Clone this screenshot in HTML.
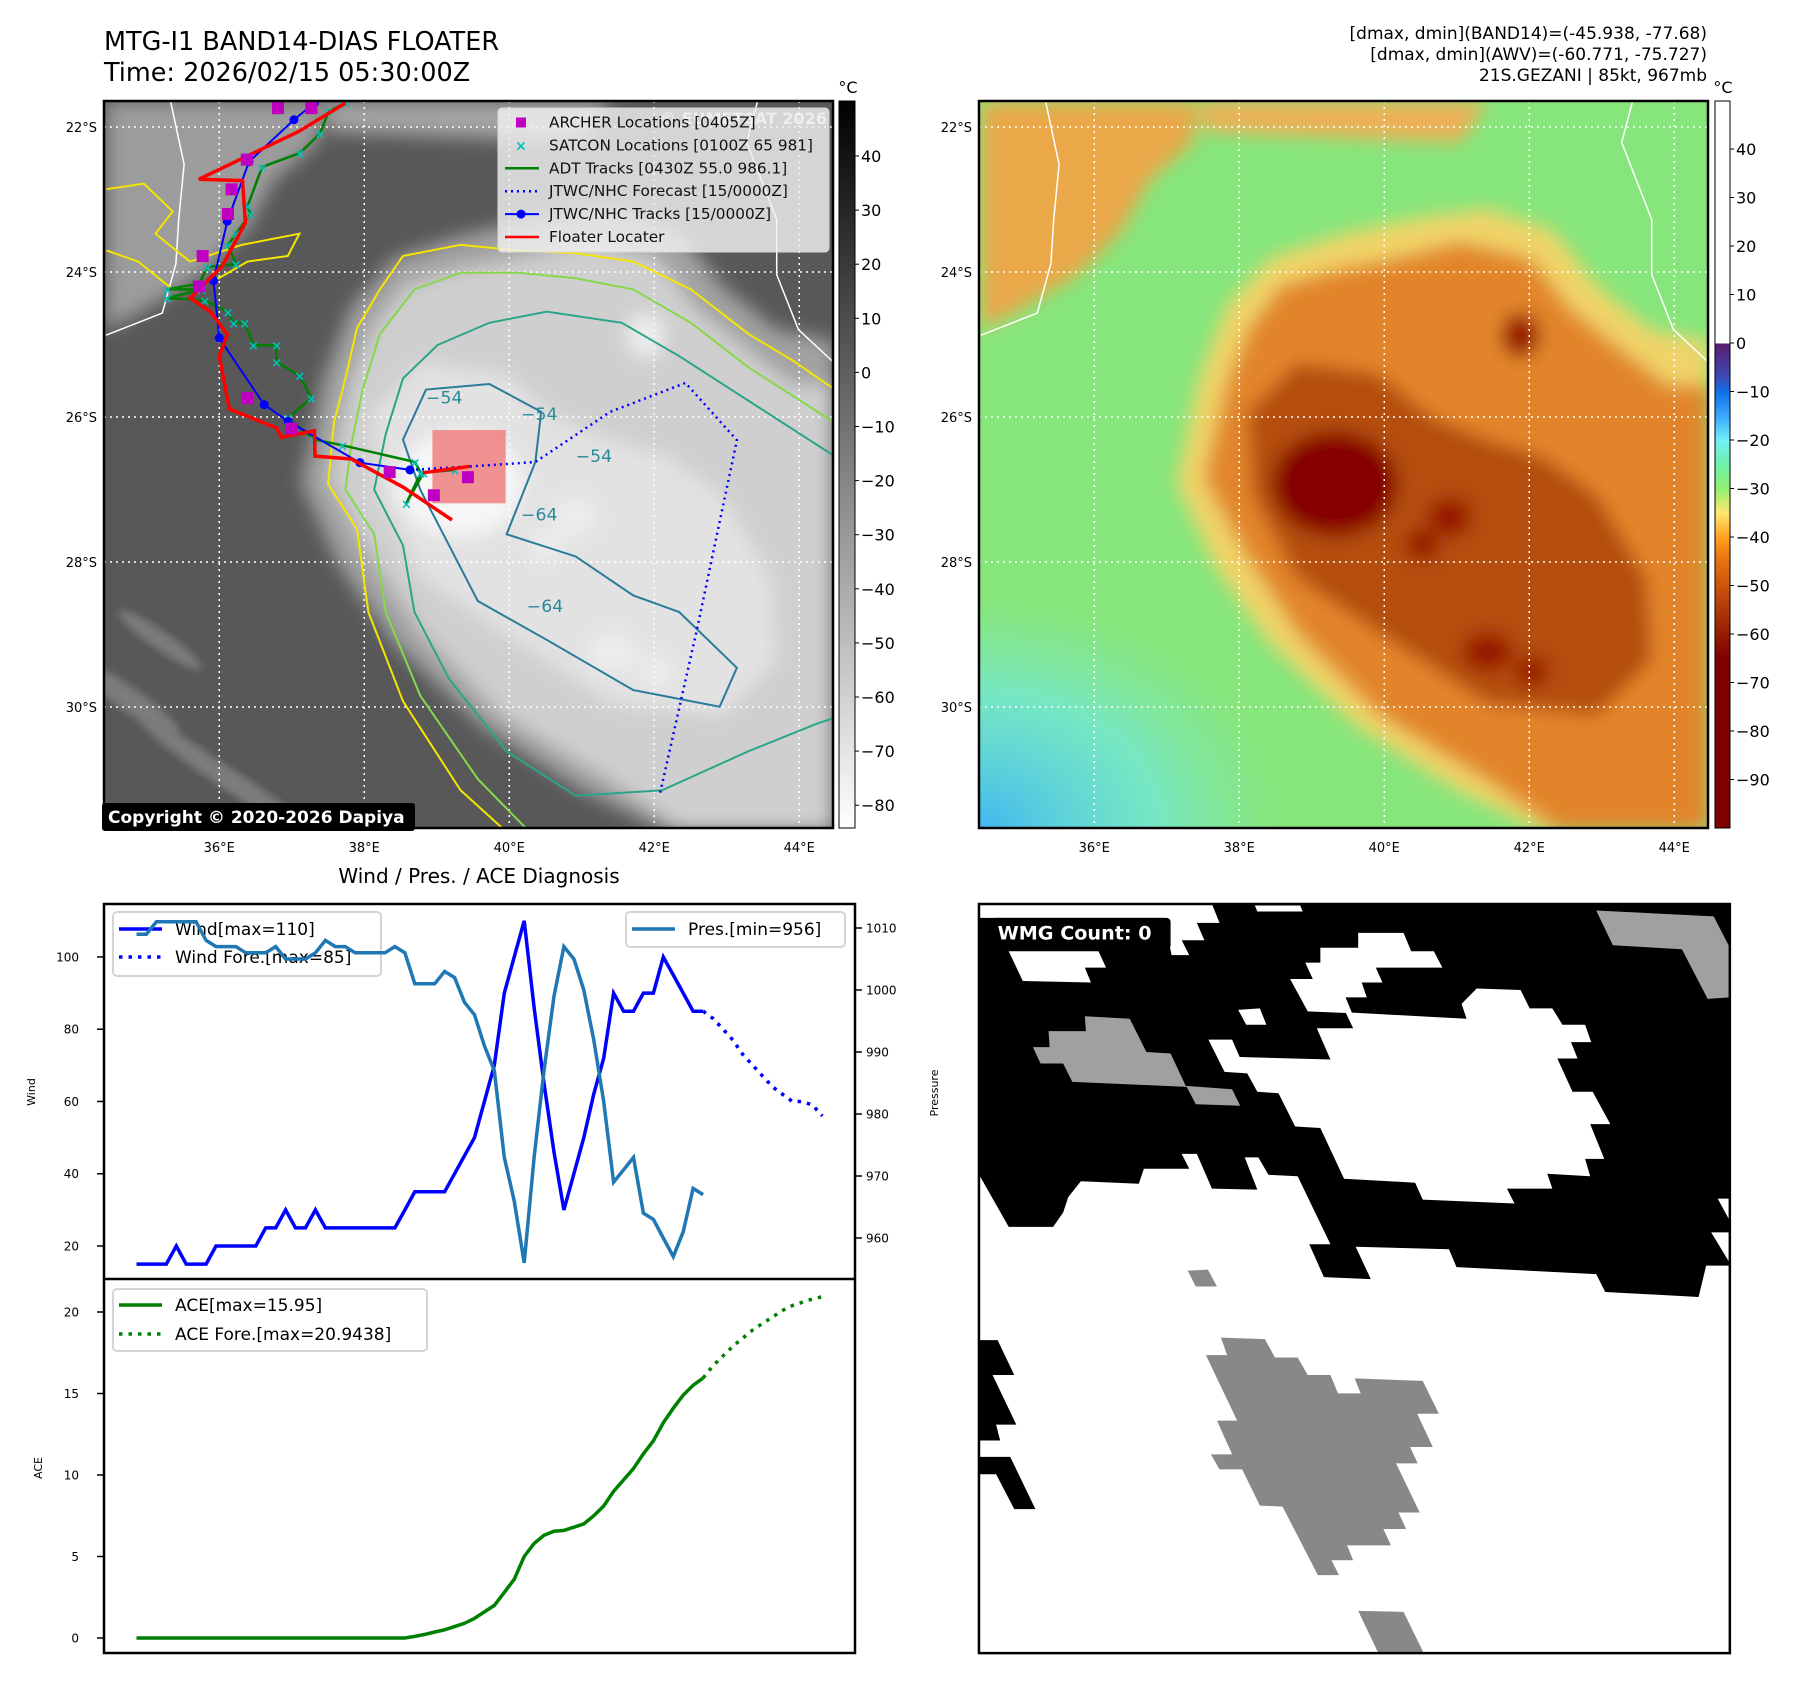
<!DOCTYPE html>
<html><head><meta charset="utf-8"><style>
html,body{margin:0;padding:0;background:#fff;}
svg{display:block;font-family:"DejaVu Sans","Liberation Sans",sans-serif;}
</style></head><body>
<svg id="s" xmlns="http://www.w3.org/2000/svg" width="1797" height="1690" viewBox="0 0 1797 1690">
<defs>
<filter id="bl" x="-20%" y="-20%" width="140%" height="140%"><feGaussianBlur stdDeviation="9"/></filter>
<filter id="bl2" x="-20%" y="-20%" width="140%" height="140%"><feGaussianBlur stdDeviation="4"/></filter>
<clipPath id="cl"><rect x="104" y="101" width="729" height="727"/></clipPath>
<clipPath id="cr"><rect x="979" y="101" width="728" height="727"/></clipPath>
<linearGradient id="gL" x1="0" y1="0" x2="0" y2="1"><stop offset="0" stop-color="#000"/><stop offset="1" stop-color="#fff"/></linearGradient>
<linearGradient id="gR" x1="0" y1="0" x2="0" y2="1">
<stop offset="0" stop-color="#fff"/><stop offset="0.3333" stop-color="#fff"/>
<stop offset="0.3334" stop-color="#5a1a6e"/><stop offset="0.38" stop-color="#3c4cb8"/>
<stop offset="0.40" stop-color="#1070e8"/><stop offset="0.4333" stop-color="#3aa8ff"/>
<stop offset="0.4667" stop-color="#70f0f8"/><stop offset="0.50" stop-color="#70f0a8"/>
<stop offset="0.5333" stop-color="#90f070"/><stop offset="0.5667" stop-color="#ffe870"/>
<stop offset="0.60" stop-color="#ffa020"/><stop offset="0.6333" stop-color="#e87010"/>
<stop offset="0.70" stop-color="#b03808"/><stop offset="0.7667" stop-color="#800000"/><stop offset="1" stop-color="#800000"/>
</linearGradient>
<radialGradient id="gc" cx="0" cy="1" r="1"><stop offset="0" stop-color="#40b8f0"/><stop offset="0.6" stop-color="#70e8e0" stop-opacity="0.7"/><stop offset="1" stop-color="#80e8c0" stop-opacity="0"/></radialGradient>
</defs>
<g id="root"></g>
</svg>
<script>
// ---------- chart data ----------
const windObs = [15,15,15,15,20,15,15,15,20,20,20,20,20,25,25,30,25,25,30,25,25,25,25,25,25,25,25,30,35,35,35,35,40,45,50,60,70,90,100,110,86,65,46,30,40,50,62,72,90,85,85,90,90,100,95,90,85,85];
const windFore = [85,83,80,77,73,70,67,64,62,60,60,59,56];
const presObs = [1009,1009,1011,1011,1011,1011,1011,1008,1007,1007,1007,1006,1006,1006,1007,1005,1005,1005,1006,1008,1007,1007,1006,1006,1006,1006,1007,1006,1001,1001,1001,1003,1002,998,996,991,987,973,966,956,973,987,999,1007,1005,1000,992,982,969,971,973,964,963,960,957,961,968,967];
const aceObs = [0,0,0,0,0,0,0,0,0,0,0,0,0,0,0,0,0,0,0,0,0,0,0,0,0,0,0,0,0.1,0.22,0.37,0.5,0.7,0.9,1.2,1.6,2.0,2.8,3.6,5.0,5.8,6.3,6.55,6.6,6.8,7.0,7.5,8.1,9.0,9.7,10.4,11.3,12.1,13.2,14.1,14.9,15.5,15.95];
const aceFore = [15.95,16.7,17.3,17.9,18.4,18.9,19.3,19.7,20.1,20.4,20.6,20.8,20.94];
const windTicks = [20,40,60,80,100];
const presTicks = [960,970,980,990,1000,1010];
const aceTicks = [0,5,10,15,20];
// ---------- map track data (lon E, lat S) ----------
const jtwcLon = [37.31,37.03,36.41,36.11,35.92,36.0,36.62,36.95,37.94,38.63];
const jtwcLat = [21.67,21.90,22.48,23.30,24.12,24.91,25.83,26.06,26.63,26.73];
const foreLon = [38.63,39.49,40.36,41.39,42.43,43.14,42.59,42.07];
const foreLat = [26.73,26.68,26.62,25.93,25.53,26.32,28.92,31.23];
const floatLon = [37.74,37.10,36.47,35.72,36.32,36.36,36.04,35.60,35.88,36.11,36.0,36.14,36.79,36.86,37.31,37.32,37.82,38.54,39.21];
const floatLat = [21.67,22.06,22.36,22.72,22.74,23.32,23.92,24.36,24.55,24.86,25.16,25.89,26.15,26.28,26.19,26.54,26.58,26.97,27.42];
const adtLon = [37.74,37.51,37.39,37.11,36.59,36.39,36.43,36.23,36.12,36.23,35.84,35.72,35.28,35.76,35.28,35.80,36.12,36.20,36.35,36.47,36.79,36.79,37.11,37.27,36.95,37.31,37.70,38.70,38.78,38.58,38.82,39.25];
const adtLat = [21.67,21.78,22.09,22.36,22.55,23.09,23.20,23.47,23.63,23.89,23.93,24.16,24.24,24.24,24.36,24.39,24.55,24.70,24.70,25.01,25.01,25.24,25.43,25.74,26.01,26.31,26.39,26.62,26.77,27.19,26.77,26.73];
const archerLon = [36.81,37.27,36.38,36.17,36.12,35.77,35.72,36.39,36.99,38.35,38.96,39.43];
const archerLat = [21.74,21.74,22.45,22.86,23.20,23.78,24.20,25.74,26.16,26.76,27.08,26.83];
const lonTicks = [36,38,40,42,44];
const latTicks = [22,24,26,28,30];
const cbLeftTicks = [40,30,20,10,0,-10,-20,-30,-40,-50,-60,-70,-80];
const cbRightTicks = [40,30,20,10,0,-10,-20,-30,-40,-50,-60,-70,-80,-90];

const NS='http://www.w3.org/2000/svg';
const root=document.getElementById('root');
function mk(tag,attrs,parent,txt){const e=document.createElementNS(NS,tag);for(const k in attrs)e.setAttribute(k,attrs[k]);if(txt!==undefined)e.textContent=txt;(parent||root).appendChild(e);return e;}
function pts(a){return a.map(p=>p[0].toFixed(1)+','+p[1].toFixed(1)).join(' ');}

// ---------- axes functions ----------
const X0=136.5, DX=9.94;
function xi(i){return X0+i*DX;}
function yW(w){return 1246-(w-20)*3.613;}
function yP(p){return 928+(1010-p)*6.2;}
function yA(a){return 1638-a*16.3;}
function LX(lon){return 104+(lon-34.41)*72.5;}
function RX(lon){return 979+(lon-34.41)*72.5;}
function GY(lat){return 127+(lat-22)*72.5;}

// ---------- titles ----------
let t;
t=mk('text',{x:104,y:50,'font-size':25.5,fill:'#000'},root,'MTG-I1 BAND14-DIAS FLOATER');


t=mk('text',{x:104,y:81,'font-size':25.5,fill:'#000'},root,'Time: 2026/02/15 05:30:00Z');


const info=['[dmax, dmin](BAND14)=(-45.938, -77.68)','[dmax, dmin](AWV)=(-60.771, -75.727)','21S.GEZANI | 85kt, 967mb'];
info.forEach((s,i)=>{const e=mk('text',{x:1707,y:39+i*21,'font-size':17,'text-anchor':'end'},root,s);

});

// ---------- map background shapes (zoom coords from right map) ----------
function z5(x,y,off){return [941.7+x/1.831-off, y/1.815-0.9];}
const shapes=[
 {p:[[72,185],[470,185],[460,260],[380,330],[330,420],[250,500],[150,560],[72,600]],r:'#eaa84a',l:'#9c9c9c'},
 {p:[[470,185],[1000,185],[950,260],[700,250],[480,240]],r:'#eeb056',l:'#a4a4a4'},
 {p:[[430,880],[470,690],[520,560],[600,470],[720,430],[850,400],[1000,380],[1120,420],[1200,520],[1300,600],[1405,620],[1405,1510],[1100,1510],[950,1440],[760,1320],[600,1170],[500,1030]],r:'#f0d468',l:'#a2a2a2'},
 {p:[[480,870],[520,700],[560,600],[620,520],[720,490],[830,470],[950,440],[1080,470],[1150,560],[1250,640],[1330,700],[1405,700],[1405,1510],[1130,1510],[1000,1420],[800,1300],[650,1150],[550,1000]],r:'#e2852c',l:'#cfcfcf'},
 {p:[[560,750],[650,660],[800,680],[900,760],[1000,800],[1100,830],[1200,900],[1290,1050],[1300,1200],[1200,1300],[1000,1280],[800,1150],[650,1050],[570,900]],r:'#b44e10',l:'#e2e2e2'}
];
const spots=[[720,880,115,95],[1060,610,35,40],[930,940,40,35],[880,990,30,28],[1000,1185,45,35],[1080,1220,30,28]];

function drawMap(side){
  const off = side==='r'?0:875;
  const X = side==='r'?RX:LX;
  const g=mk('g',{'clip-path':side==='r'?'url(#cr)':'url(#cl)'});
  
  
  const bx = side==='r'?979:104;
  mk('rect',{x:bx,y:101,width:729,height:727,fill:side==='r'?'#86e67c':'#585858'},g);
  const bg=mk('g',{filter:'url(#bl)'},g);
  shapes.forEach(s=>{mk('polygon',{points:pts(s.p.map(q=>z5(q[0],q[1],off))),fill:side==='r'?s.r:s.l},bg);});
  spots.forEach((s,i)=>{const c=z5(s[0],s[1],off);mk('ellipse',{cx:c[0],cy:c[1],rx:s[2]/1.83,ry:s[3]/1.815,fill:side==='r'?(i===0?'#860600':'#961200'):(i===0?'#f6f6f6':'#ededed')},bg);});
  if(side==='r'){mk('rect',{x:979,y:600,width:300,height:228,fill:'url(#gc)'},g);}
  else{
    [[130,700,60,12],[200,760,70,10],[160,640,50,9],[260,800,60,10]].forEach(s=>{mk('ellipse',{cx:s[0],cy:s[1],rx:s[2],ry:s[3],fill:'#7c7c7c',transform:'rotate(35 '+s[0]+' '+s[1]+')',filter:'url(#bl2)'},g);});
  }
  const c1=[[190,185],[215,300],[205,400],[200,480],[175,570],[72,610]].map(q=>z5(q[0],q[1],off));
  const c2=[[1265,185],[1245,260],[1300,400],[1300,500],[1340,600],[1405,660]].map(q=>z5(q[0],q[1],off));
  const cl=mk('polyline',{points:pts(c1),fill:'none',stroke:'#fff','stroke-width':1.5},g);
  
  
  mk('polyline',{points:pts(c2),fill:'none',stroke:'#fff','stroke-width':1.5},g);
  lonTicks.forEach(v=>{const l=mk('line',{x1:X(v),x2:X(v),y1:101,y2:828,stroke:'#fff','stroke-width':1.5,'stroke-dasharray':'2,4'},g);
    
    });
  latTicks.forEach(v=>{const l=mk('line',{x1:bx,x2:bx+729,y1:GY(v),y2:GY(v),stroke:'#fff','stroke-width':1.5,'stroke-dasharray':'2,4'},g);
    
    });
  return g;
}

// ---------- left map ----------
const gl=drawMap('l');
const cg=mk('g',{transform:'scale(0.5757,0.5565)',fill:'none','stroke-width':3.5},gl);


mk('path',{d:'M1450,700 L1380,650 L1300,600 L1200,520 L1100,470 L1000,455 L900,450 L800,440 L700,460 L660,520 L620,590 L600,680 L580,760 L570,870 L620,950 L640,1100 L700,1260 L800,1420 L880,1495',stroke:'#f5e600'},cg);
mk('path',{d:'M185,340 L250,330 L300,380 L270,420 L330,470 L420,440 L520,420 L500,460 L430,470 L380,500 L300,520 L240,470 L185,450',stroke:'#f5e600'},cg);
mk('path',{d:'M1450,760 L1300,660 L1200,580 L1100,520 L1000,500 L900,490 L800,490 L720,520 L660,600 L630,700 L610,800 L600,880 L650,960 L670,1100 L730,1250 L830,1400 L920,1495',stroke:'#86d84a'},cg);
mk('path',{d:'M1450,820 L1300,720 L1180,640 L1080,580 L950,560 L850,580 L760,620 L700,680 L670,780 L650,880 L700,980 L720,1100 L780,1220 L880,1350 L1000,1430 L1150,1420 L1300,1350 L1420,1300 L1450,1290',stroke:'#2aa58a'},cg);
mk('path',{d:'M740,700 L850,690 L940,740 L930,830 L880,960 L1000,1000 L1100,1070 L1180,1100 L1280,1200 L1250,1270 L1100,1240 L950,1150 L830,1080 L780,980 L730,880 L700,790 Z',stroke:'#2a7a9a'},cg);
[[740,725,'−54'],[905,755,'−54'],[1000,830,'−54'],[905,935,'−64'],[915,1100,'−64']].forEach(a=>{mk('text',{x:a[0],y:a[1],'font-size':30,fill:'#2a8a9a',stroke:'none'},cg,a[2]);});
const rb=mk('rect',{x:LX(38.94),y:GY(26.18),width:LX(39.95)-LX(38.94),height:GY(27.19)-GY(26.18),fill:'#f08080','fill-opacity':0.85},gl);


function track(lons,lats){return lons.map((v,i)=>[LX(v),GY(lats[i])]);}
const adt=mk('polyline',{points:pts(track(adtLon,adtLat)),fill:'none',stroke:'#008000','stroke-width':2.5},gl);


track(adtLon,adtLat).forEach(p=>{const m=mk('text',{x:p[0],y:p[1]+5,'font-size':13,'font-weight':'bold',fill:'#00c0c0','text-anchor':'middle'},gl,'×');
  
  });
const jt=mk('polyline',{points:pts(track(jtwcLon,jtwcLat)),fill:'none',stroke:'#0000ff','stroke-width':2},gl);


track(jtwcLon,jtwcLat).forEach(p=>{const c=mk('circle',{cx:p[0],cy:p[1],r:4.5,fill:'#0000ff'},gl);
  
  });
const fc=mk('polyline',{points:pts(track(foreLon,foreLat)),fill:'none',stroke:'#0000ff','stroke-width':2.5,'stroke-dasharray':'2,4'},gl);


const fl=mk('polyline',{points:pts(track(floatLon,floatLat)),fill:'none',stroke:'#ff0000','stroke-width':3.5},gl);


mk('line',{x1:LX(38.81),y1:GY(26.77),x2:LX(39.46),y2:GY(26.68),stroke:'#ff0000','stroke-width':3.5},gl);
track(archerLon,archerLat).forEach(p=>{const r=mk('rect',{x:p[0]-6,y:p[1]-6,width:12,height:12,fill:'#c000c0'},gl);
  
  });
const lg=mk('g',{},root);


mk('rect',{x:498,y:108,width:331,height:144,rx:4,fill:'#f0f0f0','fill-opacity':0.82,stroke:'#d8d8d8'},lg);
mk('text',{x:660,y:124,'font-size':16,'font-weight':'bold',fill:'#ffffff','fill-opacity':0.6},lg,'© EUMETSAT 2026');
const lgItems=['ARCHER Locations [0405Z]','SATCON Locations [0100Z 65 981]','ADT Tracks [0430Z 55.0 986.1]','JTWC/NHC Forecast [15/0000Z]','JTWC/NHC Tracks [15/0000Z]','Floater Locater'];
lgItems.forEach((s,i)=>{const y=122.5+i*22.9;
  const tx=mk('text',{x:549,y:y+5,'font-size':15.3,fill:'#111'},lg,s);
  
  
  if(i===0)mk('rect',{x:516,y:y-5,width:10,height:10,fill:'#c000c0'},lg);
  if(i===1)mk('text',{x:521,y:y+5,'font-size':14,'font-weight':'bold',fill:'#00c0c0','text-anchor':'middle'},lg,'×');
  if(i===2)mk('line',{x1:505,x2:539,y1:y,y2:y,stroke:'#008000','stroke-width':2.5},lg);
  if(i===3)mk('line',{x1:505,x2:539,y1:y,y2:y,stroke:'#0000ff','stroke-width':2.5,'stroke-dasharray':'2,4'},lg);
  if(i===4){mk('line',{x1:505,x2:539,y1:y,y2:y,stroke:'#0000ff','stroke-width':2},lg);mk('circle',{cx:521,cy:y,r:4.5,fill:'#0000ff'},lg);}
  if(i===5)mk('line',{x1:505,x2:539,y1:y,y2:y,stroke:'#ff0000','stroke-width':2.5},lg);
});
const cp=mk('g',{},root);


mk('rect',{x:102,y:803,width:313,height:28,rx:3,fill:'#000'},cp);
mk('text',{x:108,y:823,'font-size':17,'font-weight':'bold',fill:'#fff'},cp,'Copyright © 2020-2026 Dapiya');

// ---------- right map ----------
drawMap('r');

function mapFrame(bx,name){
  const f=mk('rect',{x:bx,y:101,width:729,height:727,fill:'none',stroke:'#000','stroke-width':2.5});
  
  
  const X = bx===104?LX:RX;
  latTicks.forEach(v=>{const e=mk('text',{x:bx-7,y:GY(v)+5,'font-size':13,'text-anchor':'end'},root,v+'°S');
    
    });
  lonTicks.forEach(v=>{const e=mk('text',{x:X(v),y:852,'font-size':13,'text-anchor':'middle'},root,v+'°E');
    
    });
}
mapFrame(104,'band14-map-frame');
mapFrame(979,'awv-map-frame');

const cbl=mk('rect',{x:839,y:101,width:16,height:727,fill:'url(#gL)',stroke:'#000','stroke-width':1});


function yCL(v){return 156+(40-v)*5.41;}
cbLeftTicks.forEach(v=>{mk('line',{x1:855,x2:859,y1:yCL(v),y2:yCL(v),stroke:'#000'});
  const e=mk('text',{x:861,y:yCL(v)+6,'font-size':16},root,String(v).replace('-','−'));
  
  });
mk('text',{x:848,y:93,'font-size':16,'text-anchor':'middle'},root,'°C');
const cbr=mk('rect',{x:1715,y:101,width:15,height:727,fill:'url(#gR)',stroke:'#000','stroke-width':1});


function yCR(v){return 343+(0-v)*4.85;}
cbRightTicks.forEach(v=>{mk('line',{x1:1730,x2:1734,y1:yCR(v),y2:yCR(v),stroke:'#000'});
  const e=mk('text',{x:1736,y:yCR(v)+6,'font-size':16},root,String(v).replace('-','−'));
  
  });
mk('text',{x:1723,y:93,'font-size':16,'text-anchor':'middle'},root,'°C');

// ---------- diagnosis chart ----------
t=mk('text',{x:479,y:883,'font-size':20,'text-anchor':'middle'},root,'Wind / Pres. / ACE Diagnosis');


const ch=mk('g',{},root);


const wl=mk('polyline',{points:pts(windObs.map((w,i)=>[xi(i),yW(w)])),fill:'none',stroke:'#0000ff','stroke-width':3.5,'stroke-linejoin':'miter'},ch);


const wf=mk('polyline',{points:pts(windFore.map((w,i)=>[xi(windObs.length-1+i),yW(w)])),fill:'none',stroke:'#0000ff','stroke-width':3.5,'stroke-dasharray':'3.5,6'},ch);


windTicks.forEach(v=>{mk('line',{x1:97,x2:104,y1:yW(v),y2:yW(v),stroke:'#000','stroke-width':1.5},ch);
  const e=mk('text',{x:79,y:yW(v)+4.5,'font-size':12,'text-anchor':'end'},ch,v);
  
  });
t=mk('text',{x:35,y:1092,'font-size':11,'text-anchor':'middle',transform:'rotate(-90 35 1092)'},ch,'Wind');


const wlg=mk('g',{},ch);


mk('rect',{x:113,y:912,width:268,height:64,rx:4,fill:'#fff','fill-opacity':0.8,stroke:'#d4d4d4','stroke-width':2},wlg);
mk('line',{x1:119,x2:162,y1:929,y2:929,stroke:'#0000ff','stroke-width':3.5},wlg);
mk('line',{x1:119,x2:162,y1:957,y2:957,stroke:'#0000ff','stroke-width':3.5,'stroke-dasharray':'3.5,6'},wlg);
mk('text',{x:175,y:935,'font-size':17},wlg,'Wind[max=110]');
mk('text',{x:175,y:963,'font-size':17},wlg,'Wind Fore.[max=85]');
const pl=mk('polyline',{points:pts(presObs.map((p,i)=>[xi(i),yP(p)])),fill:'none',stroke:'#1f77b4','stroke-width':3.5},ch);


presTicks.forEach(v=>{mk('line',{x1:855,x2:862,y1:yP(v),y2:yP(v),stroke:'#000','stroke-width':1.5},ch);
  const e=mk('text',{x:866,y:yP(v)+4.5,'font-size':12},ch,v);
  
  });
t=mk('text',{x:938,y:1093,'font-size':11,'text-anchor':'middle',transform:'rotate(-90 938 1093)'},ch,'Pressure');


const plg=mk('g',{},ch);


mk('rect',{x:626,y:912,width:219,height:35,rx:4,fill:'#fff','fill-opacity':0.8,stroke:'#d4d4d4','stroke-width':2},plg);
mk('line',{x1:632,x2:675,y1:929,y2:929,stroke:'#1f77b4','stroke-width':3.5},plg);
mk('text',{x:688,y:935,'font-size':17},plg,'Pres.[min=956]');
const al=mk('polyline',{points:pts(aceObs.map((a,i)=>[xi(i),yA(a)])),fill:'none',stroke:'#008000','stroke-width':3.5},ch);


const af=mk('polyline',{points:pts(aceFore.map((a,i)=>[xi(aceObs.length-1+i),yA(a)])),fill:'none',stroke:'#008000','stroke-width':3.5,'stroke-dasharray':'3.5,6'},ch);


aceTicks.forEach(v=>{mk('line',{x1:97,x2:104,y1:yA(v),y2:yA(v),stroke:'#000','stroke-width':1.5},ch);
  const e=mk('text',{x:79,y:yA(v)+4.5,'font-size':12,'text-anchor':'end'},ch,v);
  
  });
t=mk('text',{x:42,y:1468,'font-size':11,'text-anchor':'middle',transform:'rotate(-90 42 1468)'},ch,'ACE');


const alg=mk('g',{},ch);


mk('rect',{x:113,y:1289,width:314,height:62,rx:4,fill:'#fff','fill-opacity':0.8,stroke:'#d4d4d4','stroke-width':2},alg);
mk('line',{x1:119,x2:162,y1:1305,y2:1305,stroke:'#008000','stroke-width':3.5},alg);
mk('line',{x1:119,x2:162,y1:1334,y2:1334,stroke:'#008000','stroke-width':3.5,'stroke-dasharray':'3.5,6'},alg);
mk('text',{x:175,y:1311,'font-size':17},alg,'ACE[max=15.95]');
mk('text',{x:175,y:1340,'font-size':17},alg,'ACE Fore.[max=20.9438]');
mk('rect',{x:104,y:904,width:751,height:749,fill:'none',stroke:'#000','stroke-width':2.5},ch);
mk('line',{x1:104,x2:855,y1:1279,y2:1279,stroke:'#000','stroke-width':2.5},ch);

// ---------- WMG panel ----------
const wg=mk('svg',{x:959.8,y:890.6,width:788.7,height:767,viewBox:'0 0 1564 1544',preserveAspectRatio:'none'});


function P(s,fill){mk('polygon',{points:s,fill:fill},wg);}
mk('rect',{x:38,y:27,width:1489,height:1508,fill:'#fff'},wg);
P('38,27 1527,27 1527,755 1480,755 1465,818 1280,808 1262,772 985,758 970,722 785,717 815,782 722,778 693,712 735,712 670,575 612,572 592,537 565,537 590,602 500,600 470,530 440,530 455,560 365,560 355,590 240,585 215,617 205,648 185,677 97,677 40,575','#000');
P('38,27 500,27 515,65 470,65 485,100 440,100 455,130 420,130 405,55 38,55','#fff');
P('585,30 675,30 680,42 590,42','#fff');
P('97,122 275,122 290,155 248,155 260,185 125,182','#fff');
P('685,145 715,145 715,115 790,115 790,85 880,85 895,122 940,122 957,155 825,155 838,185 797,185 807,215 765,215 778,247 690,243 655,178 700,178','#fff');
P('552,240 595,237 608,270 568,270','#fff');
P('493,300 540,300 555,335 735,340 708,277 780,277 765,245 1005,258 995,228 1025,197 1112,200 1130,237 1175,237 1195,270 1240,270 1252,305 1212,305 1225,338 1185,338 1215,405 1255,405 1290,470 1250,470 1278,540 1240,540 1250,575 1165,570 1175,600 1085,600 1100,630 918,622 903,588 762,580 715,478 665,475 632,408 590,405 570,368 525,365','#fff');
P('1503,620 1527,620 1527,665','#fff');
P('1490,688 1527,688 1527,750','#fff');
P('40,905 75,905 108,975 65,975 112,1075 72,1075 80,1107 40,1107','#000');
P('40,1140 100,1140 150,1245 108,1245 72,1175 40,1175','#000');
P('1262,40 1495,52 1527,115 1527,215 1483,218 1432,118 1295,110','#a0a0a0');
P('145,315 178,315 176,283 250,283 248,253 337,258 370,325 418,328 448,393 540,400 556,433 468,430 450,395 223,385 205,348 160,348','#a0a0a0');
P('452,765 492,763 510,797 468,797','#8a8a8a');
P('518,900 605,903 625,940 670,940 690,975 735,975 750,1012 795,1012 783,982 918,987 950,1053 907,1053 938,1120 893,1120 908,1153 865,1153 912,1252 870,1252 885,1285 840,1285 855,1318 768,1318 780,1348 737,1348 752,1378 710,1378 640,1240 595,1238 560,1165 515,1165 498,1135 540,1135 510,1067 550,1067 488,935 530,935','#888');
P('790,1450 880,1452 920,1535 830,1535','#888');
mk('rect',{x:62,y:55,width:356,height:63,rx:8,fill:'#000'},wg);
const wt=mk('text',{x:75,y:98,'font-size':38,'font-weight':'bold',fill:'#fff'},wg,'WMG Count: 0');


mk('rect',{x:38,y:27,width:1489,height:1508,fill:'none',stroke:'#000','stroke-width':5},wg);
</script>
</body></html>
